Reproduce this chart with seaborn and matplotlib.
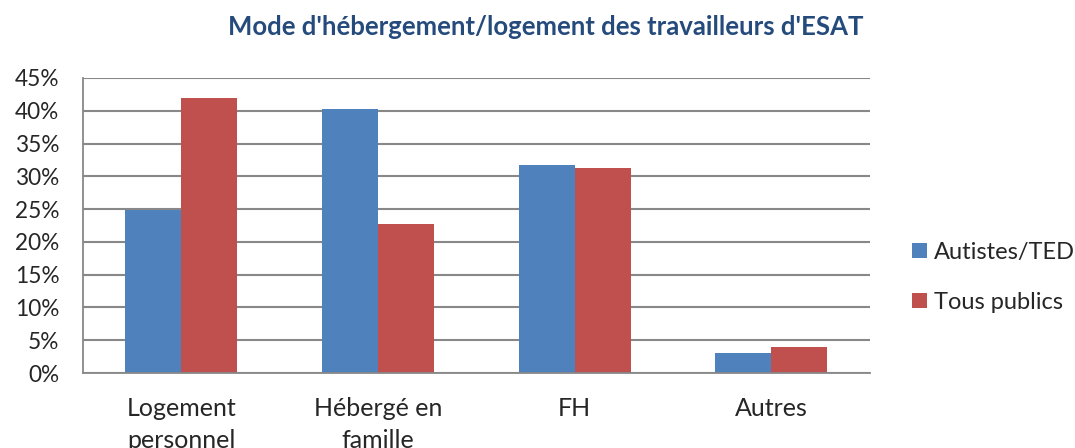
import matplotlib
matplotlib.use("Agg")
import matplotlib.pyplot as plt
import pandas as pd
import seaborn as sns
from matplotlib.ticker import FixedLocator, PercentFormatter

# valeurs (en %)
categories = ["Logement\npersonnel", "Hébergé en\nfamille", "FH", "Autres"]
autistes = [24.9, 40.3, 31.7, 3.1]
tous_publics = [42.0, 22.8, 31.2, 3.9]
series = ["Autistes/TED", "Tous publics"]
colors = ["#4F81BD", "#C0504D"]

df = pd.DataFrame({
    "categorie": categories * 2,
    "valeur": autistes + tous_publics,
    "groupe": [series[0]] * 4 + [series[1]] * 4,
})

sns.set_style("white")
plt.rcParams["font.family"] = ["Lato", "DejaVu Sans"]

fig = plt.figure(figsize=(10.75, 4.48), dpi=100)
ax = fig.add_axes([0.0772, 0.1674, 0.7318, 0.6586])

sns.barplot(data=df, x="categorie", y="valeur", hue="groupe",
            palette=colors, width=0.57, saturation=1, ax=ax,
            edgecolor="none", legend=True)

ax.set_ylim(0, 45)
ax.set_xlim(-0.5, 3.5)
ax.set_yticks(range(0, 50, 5))
ax.yaxis.set_major_formatter(PercentFormatter(decimals=0))
ax.yaxis.grid(True, color="#888888", linewidth=1.5)
ax.set_axisbelow(True)
ax.set_xlabel("")
ax.set_ylabel("")

for s in ["top", "right"]:
    ax.spines[s].set_visible(False)
for s in ["left", "bottom"]:
    ax.spines[s].set_color("#888888")
    ax.spines[s].set_linewidth(1.3)

ax.tick_params(axis="y", which="major", length=7, color="#888888",
               width=1.3, labelsize=16.3, pad=10)
ax.tick_params(axis="x", which="major", length=0, labelsize=18, pad=17)
ax.xaxis.set_minor_locator(FixedLocator([-0.5, 0.5, 1.5, 2.5, 3.5]))
ax.tick_params(axis="x", which="minor", length=7, color="#888888", width=1.3)
for lbl in ax.get_xticklabels():
    lbl.set_linespacing(1.5)

handles, labels = ax.get_legend_handles_labels()
ax.legend_.remove()
fig.legend(handles, labels, loc="center left", bbox_to_anchor=(0.848, 0.381),
           frameon=False, fontsize=17, handlelength=0.64, handleheight=0.64,
           handletextpad=0.3, labelspacing=1.22, borderpad=0, borderaxespad=0)

fig.text(0.5074, 0.94, "Mode d'hébergement/logement des travailleurs d'ESAT",
         ha="center", va="center", fontsize=18.5, fontweight="bold",
         color="#254A7C")

fig.savefig("out.png", dpi=100)
